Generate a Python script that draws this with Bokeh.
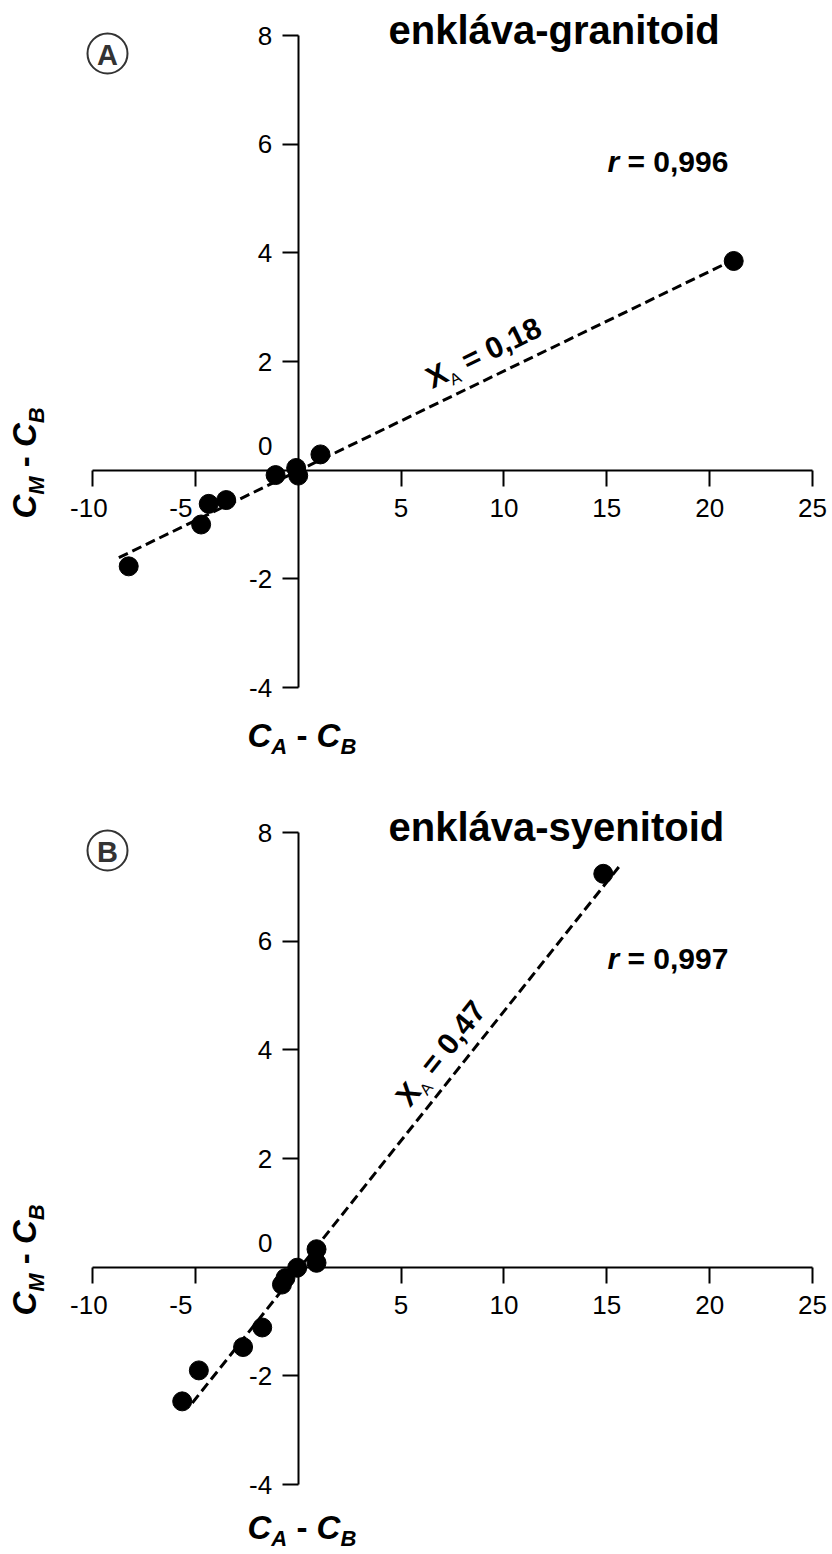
import math
from bokeh.plotting import figure
from bokeh.models import Range1d, LinearAxis, FixedTicker, Label
from bokeh.layouts import column
from bokeh.embed import file_html
from bokeh.resources import INLINE

# ---------------- data ----------------
a_x = [-8.24, -4.72, -4.35, -3.50, -1.10, -0.10, 0.00, 1.08, 21.17]
a_y = [-1.77, -1.00, -0.62, -0.55, -0.09, 0.04, -0.10, 0.29, 3.85]
a_line_x = [-8.72, 20.77]
a_line_y = [-1.61, 3.80]

b_x = [-5.64, -4.83, -2.68, -1.75, -0.79, -0.62, -0.05, 0.89, 0.89, 14.83]
b_y = [-2.47, -1.90, -1.47, -1.11, -0.32, -0.20, -0.01, 0.33, 0.08, 7.24]
b_line_x = [-5.15, 15.72]
b_line_y = [-2.50, 7.43]

NB = "\u00a0"
x_ticks = [-10, -5, 5, 10, 15, 20, 25]
x_tick_labels = ["-10" + NB, "-5" + NB * 4, "5", "10", "15", "20", "25"]
y_ticks = [-4, -2, 2, 4, 6, 8]
y_tick_labels = ["-4", "-2", "2", "4", "6", "8"]

titles = ["enkláva-granitoid", "enkláva-syenitoid"]
r_texts = ["= 0,996", "= 0,997"]
xa_texts = ["= 0,18", "= 0,47"]
panel_letters = ["A", "B"]

# ---------------- layout constants ----------------
W = 832
SX = 720 / 35.0      # px per x unit
SY = 652 / 12.0      # px per y unit
PX0, PY0 = 92, 35    # pixel of (-10, 8) inside each figure
FONT = "Liberation Sans"
BASE_FIX = 0.37      # label baseline correction (fraction of font size)


def d2(px, py):
    return -10 + (px - PX0) / SX, 8 - (py - PY0) / SY


def put(p, px, py, text, size, style="bold", color="black", angle=0.0, align="left"):
    s = BASE_FIX * size
    px = px - s * math.sin(angle)
    py = py - s * math.cos(angle)
    x, y = d2(px, py)
    p.add_layout(Label(x=x, y=y, text=text, text_font=FONT,
                       text_font_size=f"{size}px", text_font_style=style,
                       text_color=color, angle=angle, text_align=align,
                       text_baseline="alphabetic"))


def run(p, px, py, angle, pieces):
    ux, uy = math.cos(angle), -math.sin(angle)
    nx, ny = math.sin(angle), math.cos(angle)
    d = 0.0
    for text, size, style, gap, drop, adv in pieces:
        d += gap
        put(p, px + d * ux + drop * nx, py + d * uy + drop * ny, text, size, style, angle=angle)
        d += adv


def make_panel(h, xs, ys, lx, ly, k, text_start, xt_dy):
    p = figure(width=W, height=h, output_backend="svg", toolbar_location=None,
               x_range=Range1d(-10 - PX0 / SX, 25 + (W - (PX0 + 720)) / SX),
               y_range=Range1d(8 - (h - PY0) / SY, 8 + PY0 / SY),
               x_axis_location=None, y_axis_location=None,
               min_border_left=0, min_border_right=0, min_border_top=0, min_border_bottom=0)
    p.outline_line_color = None
    p.background_fill_color = "white"
    p.border_fill_color = "white"
    for g in p.grid:
        g.visible = False

    xa = LinearAxis(fixed_location=0, bounds=(-10, 25), ticker=FixedTicker(ticks=x_ticks))
    xa.major_label_overrides = dict(zip(x_ticks, x_tick_labels))
    ya = LinearAxis(fixed_location=0, bounds=(-4, 8), ticker=FixedTicker(ticks=y_ticks))
    ya.major_label_overrides = dict(zip(y_ticks, y_tick_labels))
    for ax, st in ((xa, 7), (ya, 10)):
        ax.axis_line_width = 2
        ax.axis_line_color = "black"
        ax.major_tick_line_width = 2
        ax.major_tick_line_color = "black"
        ax.major_tick_out = 16
        ax.major_tick_in = 0
        ax.minor_tick_out = 0
        ax.minor_tick_in = 0
        ax.major_label_text_font = FONT
        ax.major_label_text_font_size = "26px"
        ax.major_label_text_color = "black"
        ax.major_label_standoff = st
    p.add_layout(xa, "below")
    p.add_layout(ya, "left")

    p.line(lx, ly, line_dash="10 5", line_width=3, line_color="black")
    p.scatter(xs, ys, size=19, fill_color="black", line_color="black")

    # "0" label of the origin
    put(p, 272, 455, "0", 26, "normal", align="right")

    # circled panel letter
    cx, cy = d2(107, 53)
    p.scatter([cx], [cy], size=40, fill_color=None, line_color="#333333", line_width=2)
    put(p, 107, 65, panel_letters[k], 29, "bold", color="#333333", align="center")

    # title
    put(p, 388, 44, titles[k], 40, "bold")

    # r = ...
    put(p, 607, 172, "r", 30, "bold italic")
    put(p, 627, 172, r_texts[k], 30, "bold")

    # X_A = ... along the regression line
    ang = math.atan2((ly[1] - ly[0]) * SY, (lx[1] - lx[0]) * SX)
    run(p, text_start[0], text_start[1], ang, [
        ("X", 30, "bold", 0, 0, 20.0),
        ("A", 16, "normal", 0, 6, 11.5),
        (xa_texts[k], 30, "bold", 8.3, 0, 0),
    ])

    # axis titles
    cab = [("C", 33, "bold italic", 0, 0, 23.8),
           ("A", 22, "bold italic", 0, 7, 15.9),
           ("-", 33, "bold", 9.2, 0, 11.0),
           ("C", 33, "bold italic", 9.2, 0, 23.8),
           ("B", 22, "bold italic", 0, 7, 15.9)]
    run(p, 247, 747 + xt_dy, 0.0, cab)
    cmb = [("C", 33, "bold italic", 0, 0, 23.8),
           ("M", 22, "bold italic", 0, 8, 18.3),
           ("-", 33, "bold", 9.2, 0, 11.0),
           ("C", 33, "bold italic", 9.2, 0, 23.8),
           ("B", 22, "bold italic", 0, 8, 15.9)]
    run(p, 36, 518, math.pi / 2, cmb)
    return p


pa = make_panel(797, a_x, a_y, a_line_x, a_line_y, 0, (432, 389), 0)
pb = make_panel(757, b_x, b_y, b_line_x, b_line_y, 1, (410, 311), -5)

lay = column(pa, pb, spacing=0)
open("out.html", "w").write(file_html(lay, INLINE))
